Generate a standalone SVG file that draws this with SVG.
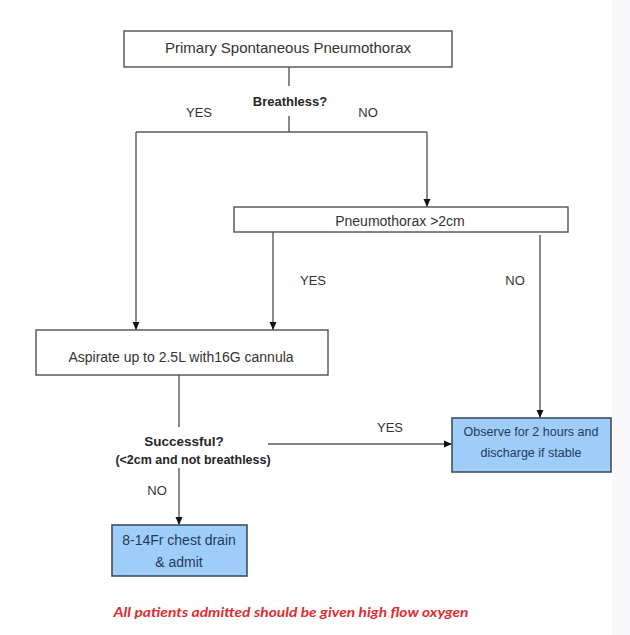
<svg xmlns="http://www.w3.org/2000/svg" width="630" height="635" viewBox="0 0 630 635">
<style>
.box{fill:#ffffff;stroke:#505050;stroke-width:1.4}
.bbox{fill:#9fcdf9;stroke:#3f4f60;stroke-width:1.6}
.t{font-family:"Liberation Sans",Arial,sans-serif;fill:#333333;text-anchor:middle}
.b{font-weight:bold;fill:#262626}
.bt{font-family:"Liberation Sans",Arial,sans-serif;fill:#1f3a5c;text-anchor:middle}
.ln{stroke:#5a5a5a;stroke-width:1.4;fill:none}
.note{font-family:Lato,"Liberation Sans",sans-serif;font-weight:bold;font-style:italic;fill:#e02b2f;text-anchor:middle}
</style>
<defs>
<marker id="ah" viewBox="0 0 8 8" refX="8" refY="4" markerWidth="8" markerHeight="8" markerUnits="userSpaceOnUse" orient="auto">
<path d="M0,0.5 L8,4 L0,7.5 Z" fill="#111111"/>
</marker>
</defs>
<rect x="0" y="0" width="630" height="635" fill="#ffffff"/>
<rect x="612" y="0" width="18" height="635" fill="#f9f9fb"/>

<g id="connectors">
<path class="ln" d="M289,67 V86"/>
<path class="ln" d="M289,116 V132"/>
<path class="ln" d="M136,132 H427"/>
<path class="ln" d="M136,132 V330" marker-end="url(#ah)"/>
<path class="ln" d="M427,132 V207" marker-end="url(#ah)"/>
<path class="ln" d="M273,232 V330" marker-end="url(#ah)"/>
<path class="ln" d="M540,235 V418" marker-end="url(#ah)"/>
<path class="ln" d="M179,375 V427"/>
<path class="ln" d="M268,444 H452" marker-end="url(#ah)"/>
<path class="ln" d="M179,468 V525" marker-end="url(#ah)"/>
<text class="t" x="199" y="117" font-size="13">YES</text>
<text class="t" x="368" y="117" font-size="13">NO</text>
<text class="t" x="313" y="285" font-size="13">YES</text>
<text class="t" x="515" y="285" font-size="13">NO</text>
<text class="t" x="390" y="432" font-size="13">YES</text>
<text class="t" x="157" y="495" font-size="13">NO</text>
</g>

<g id="start">
<rect class="box" x="124" y="31" width="328" height="36"/>
<text class="t" x="288" y="53" font-size="15">Primary Spontaneous Pneumothorax</text>
</g>

<g id="breathless">
<text class="t b" x="290" y="106" font-size="13">Breathless?</text>
</g>

<g id="pneumothorax">
<rect class="box" x="234" y="207" width="334" height="25"/>
<text class="t" x="400" y="226" font-size="14">Pneumothorax &gt;2cm</text>
</g>

<g id="aspirate">
<rect class="box" x="36" y="330" width="292" height="45"/>
<text class="t" x="181" y="362" font-size="14">Aspirate up to 2.5L with16G cannula</text>
</g>

<g id="successful">
<text class="t b" x="184" y="446" font-size="13.5">Successful?</text>
<text class="t b" x="193" y="464" font-size="12.5">(&lt;2cm and not breathless)</text>
</g>

<g id="observe">
<rect class="bbox" x="452" y="418" width="159" height="54"/>
<text class="bt" x="531" y="436" font-size="12.5">Observe for 2 hours and</text>
<text class="bt" x="531" y="457" font-size="12.5">discharge if stable</text>
</g>

<g id="chestdrain">
<rect class="bbox" x="112" y="525" width="135" height="51"/>
<text class="bt" x="179" y="545" font-size="14">8-14Fr chest drain</text>
<text class="bt" x="179" y="567" font-size="14">&amp; admit</text>
</g>

<g id="note">
<text class="note" x="291" y="617" font-size="13.5" textLength="355" lengthAdjust="spacingAndGlyphs">All patients admitted should be given high flow oxygen</text>
</g>
</svg>
